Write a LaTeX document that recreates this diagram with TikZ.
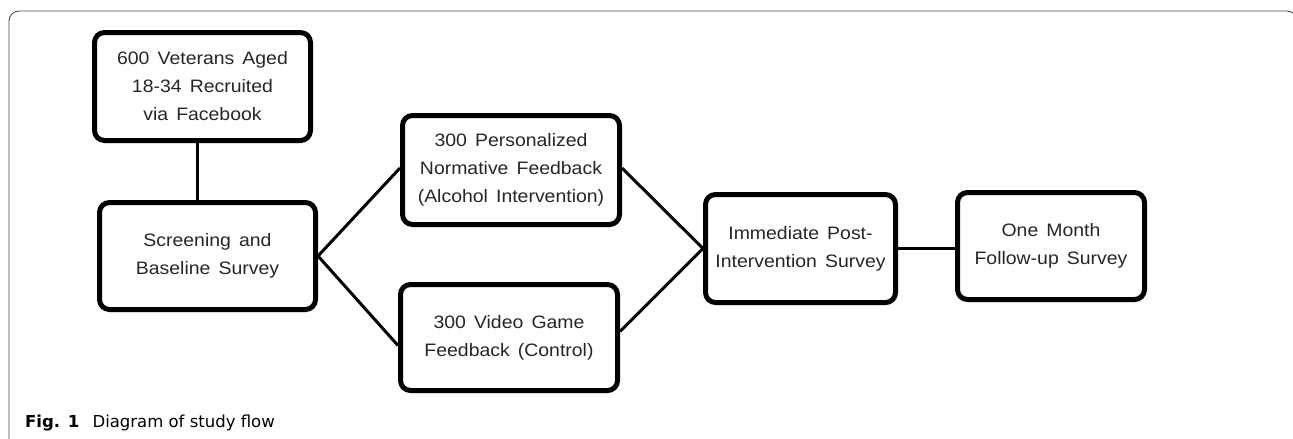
\documentclass[tikz,border=0pt]{standalone}
\usepackage{fontspec}
\setmainfont{Liberation Sans}[FakeStretch=1.08, WordSpace=1.5]
\newfontfamily\capfont{DejaVu Sans}
\usetikzlibrary{shadows}
\tikzset{
  box/.style={draw=black, line width=5pt, rounded corners=10pt, fill=white,
    align=center, inner sep=0pt, text=black!85, font=\fontsize{18}{28}\selectfont,
    drop shadow={shadow xshift=1pt, shadow yshift=-2.5pt, opacity=0.35, fill=gray}},
  conn/.style={draw=black, line width=3pt},
  frame/.style={draw=black!70, line width=0.9pt}
}
\begin{document}
\begin{tikzpicture}[x=1pt,y=-1pt]
\useasboundingbox (0,0) rectangle (1293,439);
\fill[white] (0,0) rectangle (1293,439);
% outer frame
\draw[frame, rounded corners=10pt] (9,445) -- (9,11) -- (1297,11) -- (1297,60);
% boxes
\node[box, minimum width=216pt, minimum height=108pt] (recruit) at (202.5,86.5) {600 Veterans Aged\\18-34 Recruited\\via Facebook};
\node[box, minimum width=216pt, minimum height=107pt] (screen) at (207.5,256) {Screening and\\Baseline Survey};
\node[box, minimum width=217pt, minimum height=109pt] (pnf) at (511,170) {300 Personalized\\Normative Feedback\\(Alcohol Intervention)};
\node[box, minimum width=217pt, minimum height=106pt] (video) at (509,337.5) {300 Video Game\\Feedback (Control)};
\node[box, minimum width=190pt, minimum height=108pt] (post) at (800.5,248.5) {Immediate Post-\\Intervention Survey};
\node[box, minimum width=187pt, minimum height=107pt] (month) at (1051,246) {One Month\\Follow-up Survey};
% connectors
\draw[conn] (recruit.south -| 197,0) -- (screen.north -| 197,0);
\draw[conn] (screen.east) -- ([yshift=2pt]pnf.west);
\draw[conn] (screen.east) -- ([yshift=-8pt]video.west);
\draw[conn] ([yshift=2pt]pnf.east) -- (post.west);
\draw[conn] ([yshift=6pt]video.east) -- (post.west);
\draw[conn] (post.east) -- (month.west |- post.east);
% caption
\node[anchor=base west, inner sep=0pt, font=\capfont\fontsize{16.5}{19}\selectfont] (cap) at (25,427) {\textbf{Fig. 1}\hspace{0.8em}Diagram of study flow};
\end{tikzpicture}
\end{document}
